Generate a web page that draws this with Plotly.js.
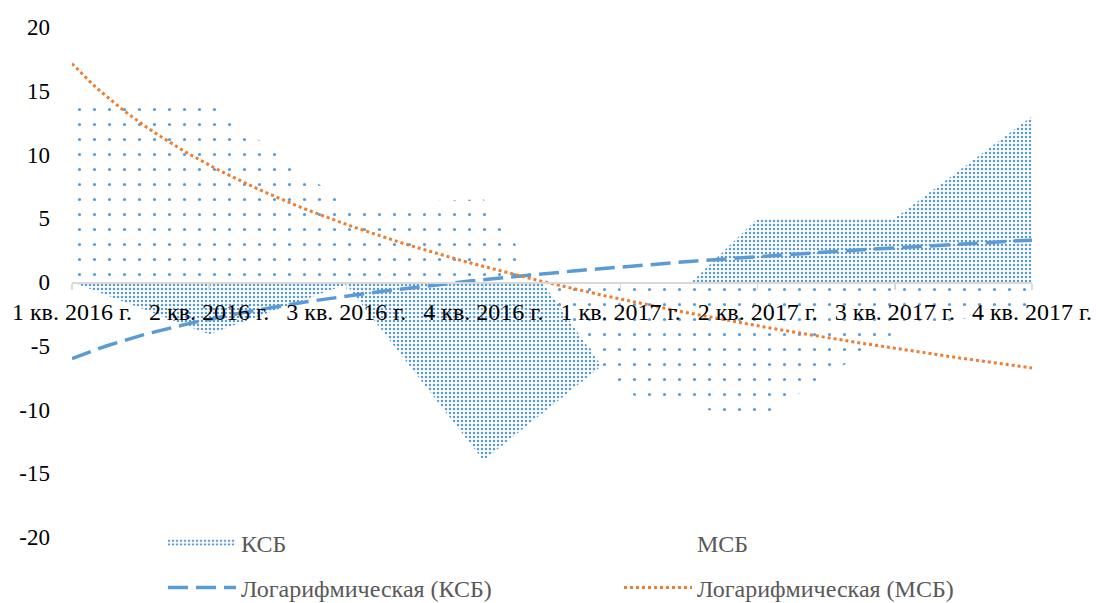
<!DOCTYPE html>
<html>
<head>
<meta charset="utf-8">
<script src="https://cdn.plot.ly/plotly-3.0.1.min.js"></script>
<style>
  html, body { margin: 0; padding: 0; background: #fff; }
  #chart { width: 1096px; height: 603px; }
</style>
</head>
<body>
<div id="chart"></div>
<script>
// ---- data ----
const categories = ['1 кв. 2016 г.', '2 кв. 2016 г.', '3 кв. 2016 г.', '4 кв. 2016 г.',
                    '1 кв. 2017 г.', '2 кв. 2017 г.', '3 кв. 2017 г.', '4 кв. 2017 г.'];
const ksb = [0, -4.1, -0.2, -14, -5.4, 5, 5, 13];
const msb = [14, 14, 6.1, 6.5, -8.7, -10.8, -4, -1.8];
const yTickVals = [20, 15, 10, 5, 0, -5, -10, -15, -20];
const yTickText = ['20', '15', '10', '5', '0', '-5', '-10', '-15', '-20'];
const seriesNames = ['КСБ', 'МСБ', 'Логарифмическая (КСБ)', 'Логарифмическая (МСБ)'];

// category positions 1..n
const xIdx = categories.map((_, i) => i + 1);

// logarithmic trendline (least squares y = a ln x + b), as the spreadsheet does
function logFit(xs, ys) {
  const lx = xs.map(Math.log);
  const n = xs.length;
  const mx = lx.reduce((s, v) => s + v, 0) / n;
  const my = ys.reduce((s, v) => s + v, 0) / n;
  let sxy = 0, sxx = 0;
  for (let i = 0; i < n; i++) { sxy += (lx[i] - mx) * (ys[i] - my); sxx += (lx[i] - mx) ** 2; }
  const a = sxy / sxx, b = my - a * mx;
  const tx = [], ty = [];
  for (let k = 0; k <= 140; k++) {
    const x = 1 + (n - 1) * k / 140;
    tx.push(x); ty.push(a * Math.log(x) + b);
  }
  return { x: tx, y: ty };
}
const ksbTrend = logFit(xIdx, ksb);
const msbTrend = logFit(xIdx, msb);

const BLUE = '#5B9BD5', ORANGE = '#ED7D31';
const FONT = 'Liberation Serif, "Times New Roman", serif';

const traces = [
  {
    x: xIdx, y: ksb, name: seriesNames[0], type: 'scatter', mode: 'none',
    fill: 'tozeroy', fillcolor: 'rgba(0,0,0,0)',
    fillpattern: { shape: '.', size: 4, solidity: 0.32, fgcolor: BLUE, bgcolor: '#ffffff' },
    legend: 'legend', hoverinfo: 'skip'
  },
  {
    x: xIdx, y: msb, name: seriesNames[1], type: 'scatter', mode: 'none',
    fill: 'tozeroy', fillcolor: 'rgba(0,0,0,0)',
    fillpattern: { shape: '.', size: 15, solidity: 0.035, fgcolor: BLUE, bgcolor: '#ffffff' },
    legend: 'legend2', hoverinfo: 'skip'
  },
  {
    x: ksbTrend.x, y: ksbTrend.y, name: seriesNames[2], type: 'scatter', mode: 'lines',
    line: { color: BLUE, width: 3.5, dash: '20px,8px' },
    legend: 'legend3', hoverinfo: 'skip'
  },
  {
    x: msbTrend.x, y: msbTrend.y, name: seriesNames[3], type: 'scatter', mode: 'lines',
    line: { color: ORANGE, width: 3, dash: '3px,3px' },
    legend: 'legend4', hoverinfo: 'skip'
  }
];

const legendBase = {
  orientation: 'v', xanchor: 'left', yanchor: 'middle',
  bgcolor: 'rgba(0,0,0,0)', itemwidth: 68,
  font: { family: FONT, size: 24, color: '#595959' }
};

const layout = {
  width: 1096, height: 603,
  margin: { l: 72, r: 64, t: 27, b: 66, autoexpand: false },
  paper_bgcolor: '#ffffff', plot_bgcolor: '#ffffff',
  showlegend: true,
  font: { family: FONT, size: 22, color: '#000000' },
  xaxis: {
    type: 'linear', range: [1, categories.length],
    tickvals: xIdx, ticktext: categories,
    anchor: 'free', position: 0.5,
    showline: true, linecolor: '#D9D9D9', linewidth: 1.5,
    ticks: 'outside', ticklen: 6, tickcolor: '#D9D9D9', tickwidth: 1.5,
    showgrid: false, zeroline: false,
    tickfont: { family: FONT, size: 24, color: '#000000' },
    ticklabelstandoff: 2,
    automargin: false,
    fixedrange: true
  },
  yaxis: {
    range: [-20, 20],
    tickvals: yTickVals, ticktext: yTickText,
    showgrid: false, zeroline: false, showline: false, ticks: '',
    tickfont: { family: FONT, size: 23, color: '#000000' },
    ticklabelstandoff: 21,
    automargin: false,
    fixedrange: true
  },
  legend:  Object.assign({}, legendBase, { x: 0.0948, y: -0.0118 }),
  legend2: Object.assign({}, legendBase, { x: 0.5698, y: -0.0118 }),
  legend3: Object.assign({}, legendBase, { x: 0.0948, y: -0.1 }),
  legend4: Object.assign({}, legendBase, { x: 0.5698, y: -0.1 })
};

Plotly.newPlot('chart', traces, layout, { displayModeBar: false, staticPlot: true });
</script>
</body>
</html>
